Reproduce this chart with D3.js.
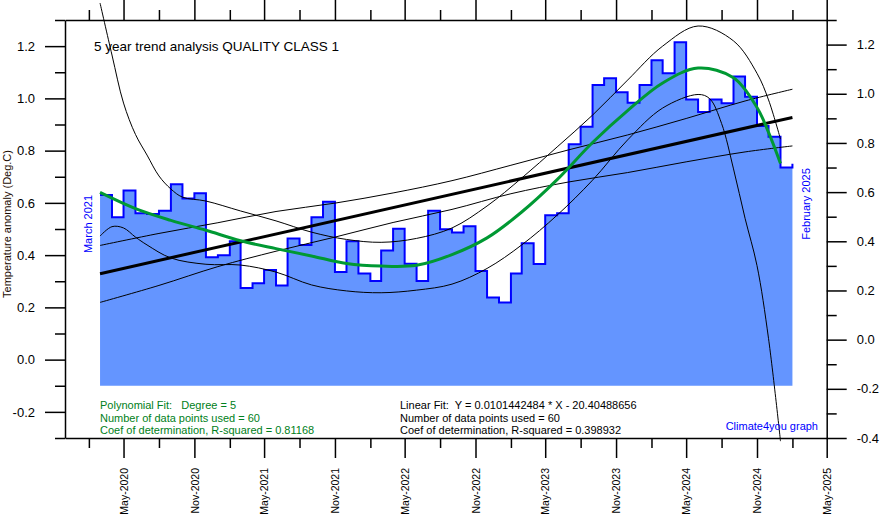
<!DOCTYPE html>
<html><head><meta charset="utf-8">
<script src="https://cdn.jsdelivr.net/npm/d3@7"></script>
<style>
html,body{margin:0;padding:0;background:#fff;}
svg{display:block;font-family:"Liberation Sans",Arial,sans-serif;}
text{white-space:pre;}
</style></head>
<body><svg id="c" width="880" height="517"></svg>
<script>
// ---- data (monthly, Mar 2020 .. Feb 2025) ----
const startYear = 2020, startMonth = 2; // March (0-based)
const anomaly = [0.630,0.545,0.647,0.560,0.557,0.570,0.671,0.617,0.637,0.392,
  0.400,0.453,0.274,0.292,0.343,0.284,0.464,0.439,0.545,0.604,
  0.335,0.453,0.330,0.301,0.418,0.501,0.367,0.301,0.570,0.499,
  0.487,0.511,0.339,0.238,0.219,0.330,0.445,0.366,0.553,0.560,
  0.824,0.891,1.051,1.077,1.023,0.983,1.051,1.146,1.096,1.215,
  0.996,0.948,0.996,0.981,1.084,1.006,0.894,0.853,0.735,0.750];
// fitted curves (month index since Mar 2020)
const linMonths = [0,59];
const linFit = [0.329,0.927];
const linBandMonths = [0,5,10,15,20,25,30,35,40,45,50,55,59];
const linUpper = [0.437,0.483,0.524,0.567,0.599,0.638,0.685,0.744,0.803,0.860,0.923,0.990,1.035];
const linLower = [0.219,0.284,0.356,0.415,0.469,0.525,0.575,0.635,0.680,0.716,0.757,0.795,0.818];
const polyMonths = [0,3,6,9,12,15,18,21,24,27,30,33,36,39,42,45,48,51,54,56,57,58];
const polyFit = [0.640,0.578,0.533,0.495,0.455,0.425,0.397,0.368,0.358,0.361,0.402,0.466,0.565,0.689,0.831,0.953,1.059,1.116,1.079,0.965,0.870,0.751];
const polyUpMonths = [0,1,2,3,4,5,6,7,9,12,15,18,21,24,27,30,33,36,39,42,45,48,51,54,56,57,58];
const polyUpper = [1.365,1.166,0.982,0.862,0.783,0.703,0.653,0.622,0.607,0.569,0.531,0.488,0.460,0.449,0.464,0.504,0.588,0.695,0.814,0.936,1.070,1.200,1.277,1.220,1.096,0.994,0.844];
const polyLoMonths = [0,1,2,3,4,6,9,12,15,18,21,24,27,30,33,36,39,42,45,48,51,52,53,54,55,56,57,58];
const polyLower = [0.473,0.509,0.504,0.469,0.439,0.389,0.365,0.362,0.335,0.286,0.263,0.256,0.266,0.289,0.349,0.439,0.553,0.687,0.841,0.963,1.015,0.999,0.904,0.730,0.541,0.360,0.080,-0.312];
const leftTicks = [-0.3,-0.2,-0.1,0,0.1,0.2,0.3,0.4,0.5,0.6,0.7,0.8,0.9,1.0,1.1,1.2,1.3];
const rightTicks = [-0.4,-0.3,-0.2,-0.1,0,0.1,0.2,0.3,0.4,0.5,0.6,0.7,0.8,0.9,1.0,1.1,1.2,1.3];
const baseValue = -0.1;
const title = "5 year trend analysis QUALITY CLASS 1";
const yTitle = "Temperature anomaly (Deg.C)";
const startLabel = "March 2021", endLabel = "February 2025";
const polyText = ["Polynomial Fit:   Degree = 5","Number of data points used = 60","Coef of determination, R-squared = 0.81168"];
const linText = ["Linear Fit:  Y = 0.0101442484 * X - 20.40488656","Number of data points used = 60","Coef of determination, R-squared = 0.398932"];
const credit = "Climate4you graph";

// ---- layout ----
const L=65, R=826.7, T=20, B=438;
const svg = d3.select("#c");
const md = k => new Date(Date.UTC(startYear, startMonth + k, 1));
const x = d3.scaleUtc().domain([new Date(Date.UTC(2019,11,1)), new Date(Date.UTC(2025,4,1))]).range([L,R]);
const y = d3.scaleLinear().domain([-0.3,1.3]).range([B,T]);
const yR = d3.scaleLinear().domain([-0.4,1.3]).range([B,T]);
const fmt = v => (v<0?"-":"") + Math.abs(v).toFixed(1);
const isMajor = v => Math.abs(Math.round(v*10)) % 2 === 0;

// area + step outline
const pts = anomaly.map((v,i)=>({d:md(i),v}));
svg.append("path").datum(pts)
  .attr("d", d3.area().curve(d3.curveStepAfter).x(p=>x(p.d)).y0(y(baseValue)).y1(p=>y(p.v)))
  .attr("fill","#6495ff");
svg.append("path").datum(pts)
  .attr("d", d3.line().curve(d3.curveStepAfter).x(p=>x(p.d)).y(p=>y(p.v)))
  .attr("fill","none").attr("stroke","#0000ff").attr("stroke-width",2);

function curve(months, vals, color, w){
  const data = months.map((m,i)=>({d:md(m), v:vals[i]}));
  svg.append("path").datum(data)
    .attr("d", d3.line().curve(d3.curveCatmullRom.alpha(0.5)).x(p=>x(p.d)).y(p=>y(p.v)))
    .attr("fill","none").attr("stroke",color).attr("stroke-width",w).attr("stroke-linejoin","round");
}
curve(linBandMonths, linUpper, "#000", 1);
curve(linBandMonths, linLower, "#000", 1);
curve(polyUpMonths, polyUpper, "#000", 1);
curve(polyLoMonths, polyLower, "#000", 1);
curve(linMonths, linFit, "#000", 3);
curve(polyMonths, polyFit, "#009933", 3);

// axes
const gl = svg.append("g").attr("transform",`translate(${L},0)`)
  .call(d3.axisLeft(y).tickValues(leftTicks).tickFormat(v=>isMajor(v)&&v>-0.25&&v<1.25?fmt(v):"").tickSizeOuter(0));
gl.selectAll(".tick line").attr("x2", v=>isMajor(v)&&v>-0.25&&v<1.25?-20:-10);
gl.selectAll(".tick text").attr("x",-30);
const gr = svg.append("g").attr("transform",`translate(${R},0)`)
  .call(d3.axisRight(yR).tickValues(rightTicks).tickFormat(v=>isMajor(v)?fmt(v):"").tickSizeOuter(0));
gr.selectAll(".tick line").attr("x2", v=>isMajor(v)?20:10);
gr.selectAll(".tick text").attr("x",30);
const xt = d3.utcMonth.range(new Date(Date.UTC(2020,1,1)), new Date(Date.UTC(2025,5,1)), 3);
const xMaj = d => d.getUTCMonth()===4 || d.getUTCMonth()===10;
const gb = svg.append("g").attr("transform",`translate(0,${B})`)
  .call(d3.axisBottom(x).tickValues(xt).tickFormat(d=>xMaj(d)?d3.utcFormat("%b-%Y")(d):"").tickSizeOuter(0));
gb.selectAll(".tick line").attr("y2", d=>xMaj(d)?20:10);
gb.selectAll(".tick text").attr("transform","rotate(-90)").attr("x",-30).attr("y",0).attr("dy","0.35em").attr("text-anchor","end");
const gt = svg.append("g").attr("transform",`translate(0,${T})`)
  .call(d3.axisTop(x).tickValues(xt).tickFormat("").tickSizeOuter(0));
gt.selectAll(".tick line").attr("y2", d=>xMaj(d)?-20:-10);
[gl,gr,gb,gt].forEach(g=>{
  g.selectAll(".domain").attr("stroke","#000").attr("stroke-width",1.5);
  g.selectAll(".tick line").attr("stroke","#000").attr("stroke-width",1.5);
  g.selectAll("text").attr("fill","#000").style("font-family","'Liberation Sans',Arial,sans-serif");
});
gl.selectAll("text").style("font-size","13px");
gr.selectAll("text").style("font-size","13px");
gb.selectAll("text").style("font-size","10.5px");

// texts
svg.append("text").attr("x",94).attr("y",51).attr("font-size",13.5).text(title);
svg.append("text").attr("transform","translate(11,224) rotate(-90)").attr("text-anchor","middle")
  .attr("font-size",11).attr("fill","#1a0a00").text(yTitle);
svg.append("text").attr("transform","translate(92,224) rotate(-90)").attr("text-anchor","middle")
  .attr("font-size",11).attr("fill","#0000ff").text(startLabel);
svg.append("text").attr("transform","translate(810,204) rotate(-90)").attr("text-anchor","middle")
  .attr("font-size",11).attr("fill","#0000ff").text(endLabel);
polyText.forEach((t,i)=>svg.append("text").attr("x",100).attr("y",409+i*12.5).attr("font-size",11).attr("fill","#008020").text(t));
linText.forEach((t,i)=>svg.append("text").attr("x",400).attr("y",409+i*12.5).attr("font-size",11).attr("fill","#000").text(t));
svg.append("text").attr("x",818).attr("y",430).attr("text-anchor","end").attr("font-size",11).attr("fill","#0000ff").text(credit);
</script></body></html>
